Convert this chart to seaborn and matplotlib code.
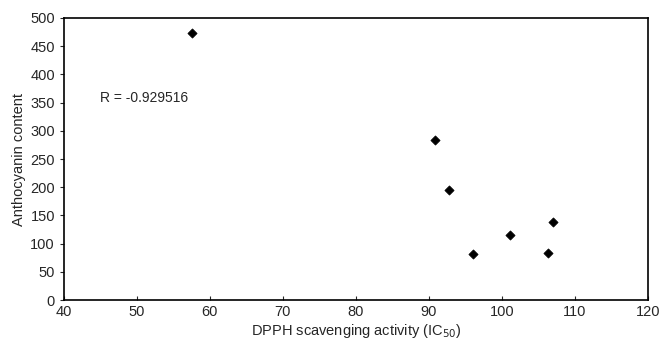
import pandas as pd
import matplotlib.pyplot as plt
import seaborn as sns

# data
dpph_ic50 = [57.5, 90.8, 92.8, 96.0, 101.1, 106.3, 107.0]
anthocyanin = [473, 283, 195, 82, 116, 84, 139]
r_label = "R = -0.929516"

df = pd.DataFrame({"DPPH": dpph_ic50, "Anthocyanin": anthocyanin})

sns.set_theme(style="ticks")
plt.rcParams["font.family"] = ["Liberation Sans", "DejaVu Sans"]

fig = plt.figure(figsize=(6.59, 3.51), dpi=100)
ax = fig.add_axes([0.097, 0.145, 0.886, 0.804])

sns.scatterplot(data=df, x="DPPH", y="Anthocyanin", marker="D", color="black",
                s=22, edgecolor="black", linewidth=0.5, ax=ax)

ax.text(44.9, 358, r_label, fontsize=10, va="center", ha="left")

ax.set_xlim(40, 120)
ax.set_ylim(0, 500)
ax.set_xticks(range(40, 121, 10))
ax.set_yticks(range(0, 501, 50))
ax.tick_params(axis="x", direction="in", length=3, labelsize=10.5, width=0.8)
ax.tick_params(axis="y", direction="out", length=3, labelsize=10.5, width=0.8)
for sp in ax.spines.values():
    sp.set_color("black")
    sp.set_linewidth(1.2)

ax.set_xlabel("DPPH scavenging activity (IC$_{50}$)", fontsize=10.5, labelpad=2)
ax.set_ylabel("Anthocyanin content", fontsize=10.5, labelpad=3)

fig.savefig("out.png", dpi=100)
